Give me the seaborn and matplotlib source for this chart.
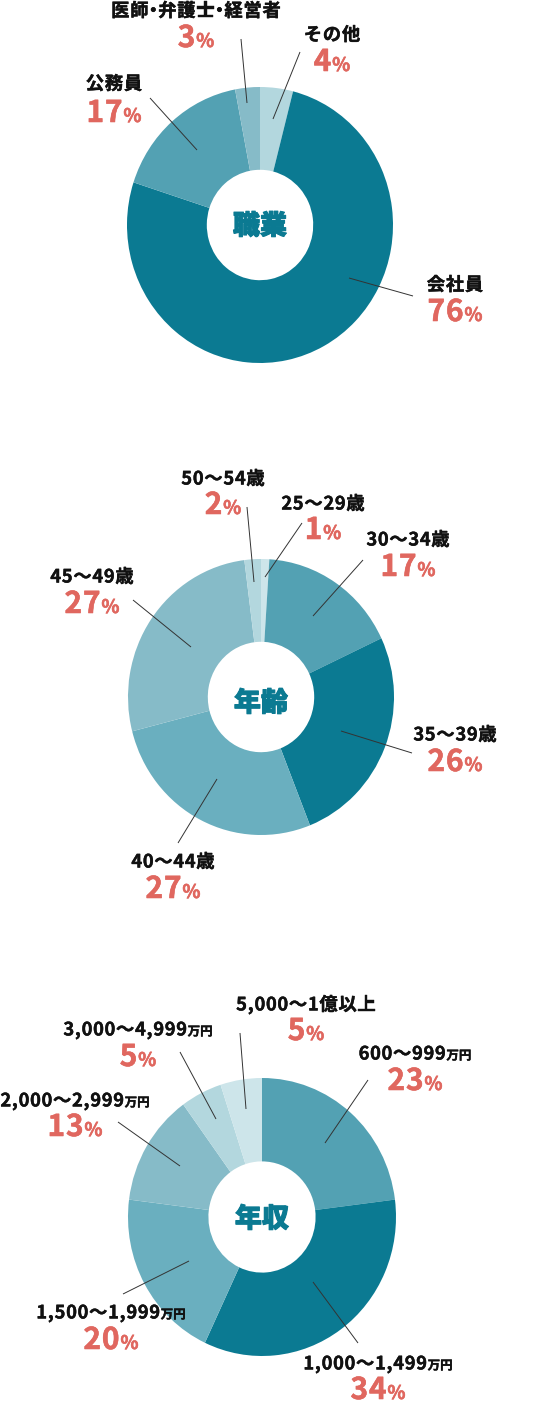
import matplotlib
matplotlib.use("Agg")
import matplotlib.pyplot as plt
import matplotlib.patheffects as pe
import seaborn as sns
from matplotlib.offsetbox import TextArea, HPacker, AnnotationBbox, DrawingArea
from matplotlib.text import Text

sns.set_theme(style="white")
plt.rcParams['font.family'] = ['Noto Sans CJK JP', 'DejaVu Sans']

# ---------------- data ----------------
job_title = "職業"
job_labels = ["その他", "会社員", "公務員", "医師・弁護士・経営者"]
job_values = [4, 76, 17, 3]

age_title = "年齢"
age_labels = ["25～29歳", "30～34歳", "35～39歳", "40～44歳", "45～49歳", "50～54歳"]
age_values = [1, 17, 26, 27, 27, 2]

income_title = "年収"
income_labels = ["600～999万円", "1,000～1,499万円", "1,500～1,999万円",
                 "2,000～2,999万円", "3,000～4,999万円", "5,000～1億以上"]
income_values = [23, 34, 20, 13, 5, 5]

# ---------------- style / layout ----------------
C_DARK = "#0b7a92"
C_MID = "#53a1b3"
C_MID2 = "#6aafbf"
C_LIGHT = "#86bbc8"
C_LIGHT2 = "#b3d7de"
C_LIGHT3 = "#cde5ea"
RED = "#e0675f"
INK = "#111111"

job_colors = [C_LIGHT2, C_DARK, C_MID, C_LIGHT]
age_colors = [C_LIGHT3, C_MID, C_DARK, C_MID2, C_LIGHT, C_LIGHT2]
income_colors = [C_MID, C_DARK, C_MID2, C_LIGHT, C_LIGHT2, C_LIGHT3]

W, H = 544, 1406

# pie geometry in pixels: centre x, centre y, radius x, radius y
job_geom = (260, 225, 133, 138)
age_geom = (261, 697, 133, 138)
income_geom = (262, 1217, 134, 139)

# label centres (x, label line y, percentage line y) in pixels
job_label_pos = [(332, 34, 61), (455, 284, 311), (114, 83, 112), (196, 10, 37)]
age_label_pos = [(323, 503, 529), (408, 539, 566), (455, 734, 761),
                 (173, 861, 888), (92, 576, 603), (223, 478, 504)]
income_label_pos = [(415, 1053, 1080), (378, 1363, 1389), (111, 1312, 1339),
                    (75, 1100, 1126), (138, 1029, 1056), (306, 1004, 1030)]

# leader lines (x0, y0, x1, y1) in pixels
job_leaders = [(300, 52, 273, 119), (349, 278, 413, 296),
               (150, 98, 197, 150), (241, 39, 247, 103)]
age_leaders = [(302, 523, 265, 577), (363, 560, 313, 616), (341, 731, 412, 753),
               (217, 779, 178, 843), (133, 600, 191, 647), (247, 507, 254, 582)]
income_leaders = [(368, 1080, 325, 1143), (313, 1282, 358, 1343), (123, 1294, 189, 1261),
                  (118, 1122, 180, 1166), (180, 1052, 216, 1119), (240, 1033, 246, 1109)]

title_pos = [(260, 226), (261, 703), (262, 1219)]

fig = plt.figure(figsize=(W / 100, H / 100), dpi=100)
fig.patch.set_facecolor("white")

over = fig.add_axes([0, 0, 1, 1], zorder=5)
over.set_xlim(0, W)
over.set_ylim(H, 0)
over.axis("off")
over.patch.set_alpha(0)

LABEL_FS = 13.2
SUFFIX_FS = 9.0
NUM_FS = 21.5
PCT_FS = 13.5
TRACK = 0.5  # letter spacing in points

label_fx = [pe.withStroke(linewidth=0.3, foreground=INK)]
num_fx = [pe.withStroke(linewidth=0.4, foreground=RED)]
title_fx = [pe.withStroke(linewidth=0.7, foreground=C_DARK)]


def draw_pie(values, colors, geom):
    cx, cy, rx, ry = geom
    ax = fig.add_axes([(cx - rx) / W, (H - cy - ry) / H, 2 * rx / W, 2 * ry / H], zorder=1)
    ax.pie(values, colors=colors, startangle=90, counterclock=False, radius=1,
           wedgeprops=dict(width=0.6, edgecolor="none", linewidth=0))
    ax.set_xlim(-1, 1)
    ax.set_ylim(-1, 1)
    ax.set_aspect("auto")
    ax.axis("off")
    return ax


def narrow_char(ch, width_pt):
    da = DrawingArea(width_pt, LABEL_FS * 0.9, 0, LABEL_FS * 0.15, clip=False)
    t = Text(width_pt / 2, 0, ch, fontsize=LABEL_FS, color=INK, fontweight="bold",
             ha="center", va="baseline", path_effects=label_fx)
    da.add_artist(t)
    return da


def label_box(text):
    kw = dict(color=INK, fontweight="bold", path_effects=label_fx)
    main, suffix = (text[:-2], "万円") if text.endswith("万円") else (text, "")
    parts = []
    for ch in main:
        if ch == "・":
            parts.append(narrow_char(ch, LABEL_FS * 0.45))
        else:
            parts.append(TextArea(ch, textprops=dict(fontsize=LABEL_FS, **kw)))
    if suffix:
        parts.append(TextArea(suffix, textprops=dict(fontsize=SUFFIX_FS, **kw)))
    return HPacker(children=parts, align="baseline", pad=0, sep=TRACK)


def pct_box(v):
    kw = dict(color=RED, fontweight="bold", path_effects=num_fx)
    parts = [TextArea(ch, textprops=dict(fontsize=NUM_FS, **kw)) for ch in str(v)]
    parts.append(TextArea("%", textprops=dict(fontsize=PCT_FS, **kw)))
    return HPacker(children=parts, align="baseline", pad=0, sep=0.6)


def place(box, x, y):
    ab = AnnotationBbox(box, (x, y), xycoords="data", frameon=False,
                        box_alignment=(0.5, 0.5), pad=0)
    over.add_artist(ab)


def annotate(labels, values, positions, leaders):
    for lab, v, (x, y1, y2), (a, b, c, d) in zip(labels, values, positions, leaders):
        place(label_box(lab), x, y1 + 1)
        place(pct_box(v), x, y2 + 1)
        over.plot([a, c], [b, d], color="#333333", lw=0.7, solid_capstyle="butt")


charts = [
    (job_values, job_colors, job_geom, job_labels, job_label_pos, job_leaders, job_title),
    (age_values, age_colors, age_geom, age_labels, age_label_pos, age_leaders, age_title),
    (income_values, income_colors, income_geom, income_labels, income_label_pos,
     income_leaders, income_title),
]

for i, (vals, cols, geom, labs, lpos, leads, title) in enumerate(charts):
    draw_pie(vals, cols, geom)
    annotate(labs, vals, lpos, leads)
    tx, ty = title_pos[i]
    over.text(tx, ty, title, fontsize=19.5, fontweight="heavy", color=C_DARK,
              ha="center", va="center", path_effects=title_fx)

fig.savefig("out.png", dpi=100, facecolor="white")
